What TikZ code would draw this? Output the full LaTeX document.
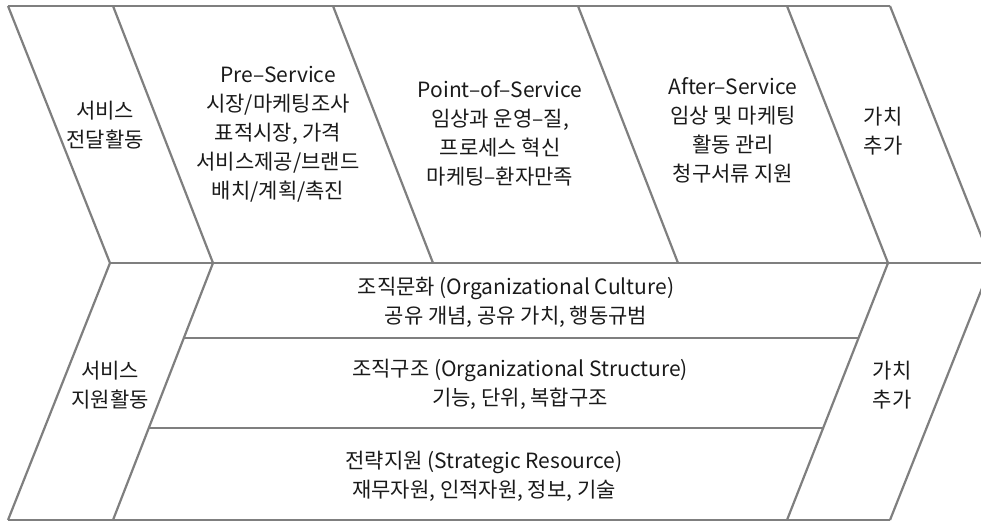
\documentclass[tikz,border=0pt]{standalone}
\usepackage{fontspec}
\setmainfont{Noto Sans CJK KR}
\definecolor{chaingray}{HTML}{7F7F7F}
\definecolor{textgray}{HTML}{1A1A1A}
\tikzset{
	chain/.style={draw=chaingray, line width=2.2pt, line join=miter},
	lbl/.style={align=center, text=textgray, inner sep=0pt, font=\fontsize{21}{29}\selectfont},
}
\begin{document}
\begin{tikzpicture}[x=1pt,y=-1pt]
	\useasboundingbox (0,0) rectangle (981,524);
	\clip (0,0) rectangle (981,524);

	% upper band: primary activities
	\draw[chain] (8,6) -- (890,6);
	\draw[chain] (8,6) -- (110,263) -- (8,520);
	\draw[chain] (113,6) -- (213,263) -- (113,520);
	\draw[chain] (333,6) -- (433,263);
	\draw[chain] (578,6) -- (678,263);
	\draw[chain] (787,6) -- (888,263) -- (787,520);
	\draw[chain] (890,6) -- (992,263) -- (890,520);
	\draw[chain] (110,263) -- (981,263);

	% lower band: support activities
	\draw[chain] (8,520) -- (890,520);
	\draw[chain] (184,338) -- (858,338);
	\draw[chain] (149,428) -- (823,428);

	\node[lbl] (deliv) at (105,125) {서비스\\전달활동};
	\node[lbl] (pre) at (278,134) {Pre--Service\\시장/마케팅조사\\표적시장, 가격\\서비스제공/브랜드\\배치/계획/촉진};
	\node[lbl] (pos) at (500,133) {Point--of--Service\\임상과 운영--질,\\프로세스 혁신\\마케팅--환자만족};
	\node[lbl] (after) at (733,130) {After--Service\\임상 및 마케팅\\활동 관리\\청구서류 지원};
	\node[lbl] (valtop) at (883,131) {가치\\추가};

	\node[lbl] (supp) at (110,385) {서비스\\지원활동};
	\node[lbl] (culture) at (516,302) {조직문화 (Organizational Culture)\\공유 개념, 공유 가치, 행동규범};
	\node[lbl] (struct) at (520,384) {조직구조 (Organizational Structure)\\기능, 단위, 복합구조};
	\node[lbl] (strat) at (484,476) {전략지원 (Strategic Resource)\\재무자원, 인적자원, 정보, 기술};
	\node[lbl] (valbot) at (892,385) {가치\\추가};
\end{tikzpicture}
\end{document}
